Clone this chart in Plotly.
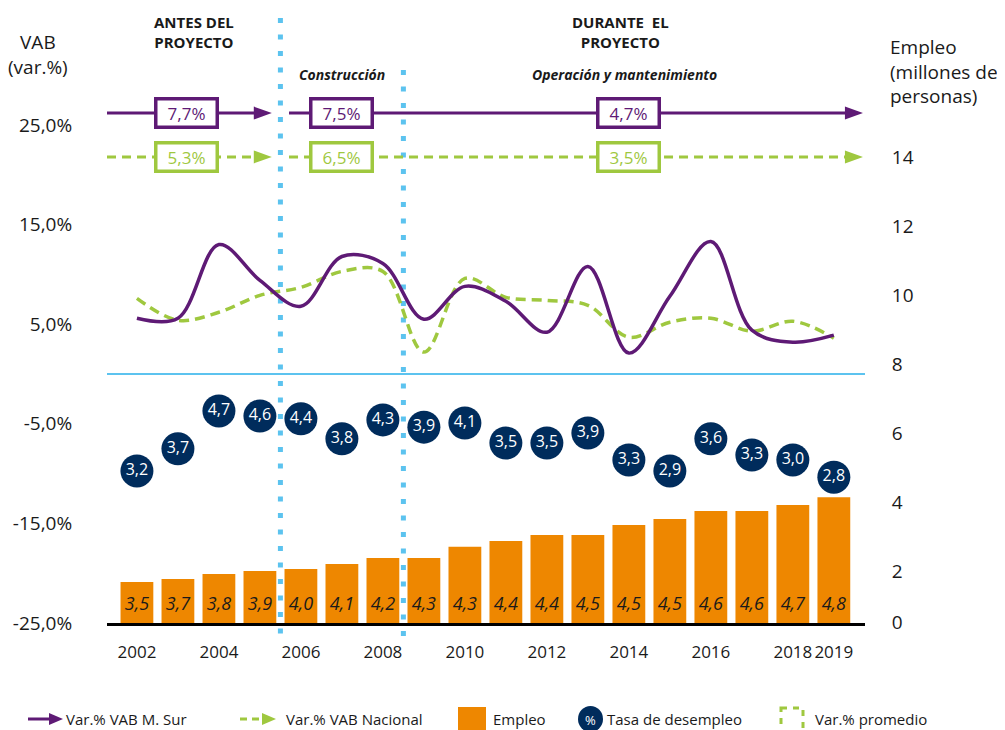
import plotly.graph_objects as go

# datos
anios = list(range(2002, 2020))
vab_sur = [5.6, 5.6, 13.0, 9.4, 6.8, 11.8, 11.1, 5.5, 8.8, 7.3, 4.2, 10.8, 2.1, 7.8, 13.3, 4.4, 3.2, 3.9]
vab_nac = [7.6, 5.4, 6.2, 7.9, 8.7, 10.3, 10.3, 2.2, 9.6, 7.7, 7.4, 6.9, 3.7, 5.2, 5.6, 4.3, 5.3, 3.6]
empleo = [1.68, 1.77, 1.91, 2.00, 2.06, 2.20, 2.38, 2.38, 2.70, 2.87, 3.04, 3.04, 3.33, 3.51, 3.74, 3.74, 3.91, 4.14]
empleo_txt = ['3,5', '3,7', '3,8', '3,9', '4,0', '4,1', '4,2', '4,3', '4,3',
              '4,4', '4,4', '4,5', '4,5', '4,5', '4,6', '4,6', '4,7', '4,8']
desempleo = [4.90, 5.54, 6.64, 6.49, 6.41, 5.83, 6.38, 6.17, 6.29, 5.71, 5.71, 6.00, 5.22, 4.90, 5.83, 5.36, 5.22, 4.72]
desempleo_txt = ['3,2', '3,7', '4,7', '4,6', '4,4', '3,8', '4,3', '3,9', '4,1',
                 '3,5', '3,5', '3,9', '3,3', '2,9', '3,6', '3,3', '3,0', '2,8']

anios_ticks = [2002, 2004, 2006, 2008, 2010, 2012, 2014, 2016, 2018, 2019]
vab_ticks = [-25, -15, -5, 5, 15, 25]
vab_ticktext = ['-25,0%', '-15,0%', '-5,0%', '5,0%', '15,0%', '25,0%']
empleo_ticks = [0.5, 2, 4, 6, 8, 10, 12, 14]
empleo_ticktext = ['0', '2', '4', '6', '8', '10', '12', '14']

# etapas del proyecto
limites = [2005.5, 2008.5]
prom_x = [2003.2, 2007.0, 2014.0]
prom_sur = ['7,7%', '7,5%', '4,7%']
prom_nac = ['5,3%', '6,5%', '3,5%']

MORADO = '#5e1a75'
VERDE = '#9fc83f'
NARANJA = '#ee8700'
AZUL = '#002c5c'
CELESTE = '#5cc3ef'
TEXTO = '#1a1a1a'
FUENTE = 'Open Sans'

X0, X1 = 2001.27, 2019.76
Y_SUR, Y_NAC = 26.2, 21.8

# area del grafico en pixeles de la pagina (el body tiene 8px de margen)
OFF = 8
W, H = 1005, 730
PL, PR, PT, PB = 107, 865, 10, 623
def px(x):
    return (x - PL) / (PR - PL)
def py(y):
    return (PB - y) / (PB - PT)

fig = go.Figure()

fig.add_trace(go.Bar(x=anios, y=empleo, yaxis='y2', width=0.8,
                     marker=dict(color=NARANJA, line=dict(width=0)), hoverinfo='skip'))
fig.add_trace(go.Scatter(x=anios, y=[1.0] * len(anios), yaxis='y2', mode='text',
                         text=empleo_txt, textposition='middle center',
                         textfont=dict(size=18, style='italic', color=TEXTO), hoverinfo='skip'))
fig.add_trace(go.Scatter(x=anios, y=vab_nac, mode='lines',
                         line=dict(color=VERDE, width=3.5, dash='10px,6px', shape='spline')))
fig.add_trace(go.Scatter(x=anios, y=vab_sur, mode='lines',
                         line=dict(color=MORADO, width=3.5, shape='spline')))
fig.add_trace(go.Scatter(x=anios, y=desempleo, yaxis='y2', mode='markers+text',
                         marker=dict(size=33, color=AZUL, line=dict(width=0)),
                         text=desempleo_txt, textposition='middle center',
                         textfont=dict(size=16, color='white'), hoverinfo='skip'))

shapes = []
# linea del 0%
shapes.append(dict(type='line', xref='x', yref='y', x0=X0, x1=X1, y0=0, y1=0,
                   line=dict(color=CELESTE, width=2), layer='below'))
# separadores de etapas
for lim, top in zip(limites, [py(18), py(70)]):
    shapes.append(dict(type='line', xref='x', yref='paper', x0=lim, x1=lim, y0=top, y1=py(636),
                       line=dict(color=CELESTE, width=5, dash='5px,11.5px'), layer='below'))
# flechas de promedios
segmentos = [(X0, limites[0] - 0.21), (limites[0] + 0.21, X1 - 0.05)]
for yv, color, dash in [(Y_SUR, MORADO, 'solid'), (Y_NAC, VERDE, '9px,6px')]:
    for a, b in segmentos:
        shapes.append(dict(type='line', xref='x', yref='y', x0=a, x1=b - 0.25, y0=yv, y1=yv,
                           line=dict(color=color, width=3, dash=dash)))
        shapes.append(dict(type='path', xref='x', yref='y', xsizemode='pixel', ysizemode='pixel',
                           xanchor=b, yanchor=yv, path='M-18,-6.5 L0,0 L-18,6.5 Z',
                           fillcolor=color, line=dict(width=0)))

# leyenda
ly = py(719)
shapes.append(dict(type='line', xref='paper', yref='paper', x0=px(28), x1=px(50), y0=ly, y1=ly,
                   line=dict(color=MORADO, width=3)))
shapes.append(dict(type='path', xref='paper', yref='paper', xsizemode='pixel', ysizemode='pixel',
                   xanchor=px(63), yanchor=ly, path='M-14,-6 L0,0 L-14,6 Z',
                   fillcolor=MORADO, line=dict(width=0)))
shapes.append(dict(type='line', xref='paper', yref='paper', x0=px(240), x1=px(262), y0=ly, y1=ly,
                   line=dict(color=VERDE, width=3, dash='7px,5px')))
shapes.append(dict(type='path', xref='paper', yref='paper', xsizemode='pixel', ysizemode='pixel',
                   xanchor=px(276), yanchor=ly, path='M-14,-6 L0,0 L-14,6 Z',
                   fillcolor=VERDE, line=dict(width=0)))
shapes.append(dict(type='rect', xref='paper', yref='paper', x0=px(458), x1=px(486),
                   y0=py(707), y1=py(734), fillcolor=NARANJA, line=dict(width=0)))
shapes.append(dict(type='circle', xref='paper', yref='paper', x0=px(578), x1=px(603),
                   y0=py(706), y1=py(732), fillcolor=AZUL, line=dict(width=0)))
shapes.append(dict(type='rect', xref='paper', yref='paper', x0=px(781), x1=px(803),
                   y0=py(708), y1=py(736), fillcolor='rgba(0,0,0,0)',
                   line=dict(color=VERDE, width=3, dash='6px,6px')))

annotations = []
for x, t in zip(prom_x, prom_sur):
    annotations.append(dict(x=x, y=Y_SUR, xref='x', yref='y', text=t, showarrow=False,
                            xanchor='center', yanchor='middle',
                            font=dict(size=17, color=MORADO), bgcolor='white',
                            bordercolor=MORADO, borderwidth=3.5, borderpad=0, width=58, height=25))
for x, t in zip(prom_x, prom_nac):
    annotations.append(dict(x=x, y=Y_NAC, xref='x', yref='y', text=t, showarrow=False,
                            xanchor='center', yanchor='middle',
                            font=dict(size=17, color=VERDE), bgcolor='white',
                            bordercolor=VERDE, borderwidth=3.5, borderpad=0, width=58, height=25))

annotations += [
    dict(x=2003.39, y=34.3, xref='x', yref='y', text='<b>ANTES DEL<br>PROYECTO</b>',
         font=dict(size=15, color=TEXTO)),
    dict(x=2013.8, y=34.3, xref='x', yref='y', text='<b>DURANTE  EL<br>PROYECTO</b>',
         font=dict(size=15, color=TEXTO)),
    dict(x=2007.0, y=30.1, xref='x', yref='y', text='<b><i>Construcción</i></b>',
         font=dict(size=14, color=TEXTO)),
    dict(x=2013.9, y=30.1, xref='x', yref='y', text='<b><i>Operación y mantenimiento</i></b>',
         font=dict(size=14, color=TEXTO)),
    dict(x=px(38), y=32.1, xref='paper', yref='y', text='VAB<br>(var.%)',
         font=dict(size=19, color=TEXTO)),
    dict(x=px(590.5), y=py(719.5), xref='paper', yref='paper', text='%',
         font=dict(size=13, color='white')),
]
for a in annotations[-6:]:
    a.update(showarrow=False, xanchor='center', yanchor='middle')
annotations.append(dict(x=px(888), y=30.4, xref='paper', yref='y', xanchor='left', yanchor='middle',
                        text='Empleo<br>(millones de<br>personas)', align='left',
                        showarrow=False, font=dict(size=19, color=TEXTO)))
for x, t in [(64, 'Var.% VAB M. Sur'), (284, 'Var.% VAB Nacional'), (491, 'Empleo'),
             (605, 'Tasa de desempleo'), (813, 'Var.% promedio')]:
    annotations.append(dict(x=px(x), y=ly, xref='paper', yref='paper', xanchor='left',
                            yanchor='middle', text=t, showarrow=False,
                            font=dict(size=15, color=TEXTO)))

fig.update_layout(
    width=W, height=H,
    margin=dict(l=PL - OFF, r=W - (PR - OFF), t=PT - OFF, b=H - (PB - OFF)),
    paper_bgcolor='white', plot_bgcolor='white',
    font=dict(family=FUENTE, color=TEXTO),
    showlegend=False,
    shapes=shapes,
    annotations=annotations,
    xaxis=dict(range=[X0, X1], tickvals=anios_ticks, ticktext=[str(a) for a in anios_ticks],
               showline=True, linecolor='black', linewidth=3, ticks='outside', ticklen=12,
               tickcolor='rgba(0,0,0,0)', showgrid=False, zeroline=False,
               tickfont=dict(size=17, color=TEXTO)),
    yaxis=dict(range=[-25, 36.55], tickvals=vab_ticks, ticktext=vab_ticktext,
               ticks='outside', ticklen=30, tickcolor='rgba(0,0,0,0)',
               showgrid=False, zeroline=False, tickfont=dict(size=19, color=TEXTO)),
    yaxis2=dict(range=[0.4928, 18.26], overlaying='y', side='right',
                tickvals=empleo_ticks, ticktext=empleo_ticktext,
                ticks='outside', ticklen=22, tickcolor='rgba(0,0,0,0)',
                showgrid=False, zeroline=False, tickfont=dict(size=19, color=TEXTO)),
)

fig.write_html("out.html")
